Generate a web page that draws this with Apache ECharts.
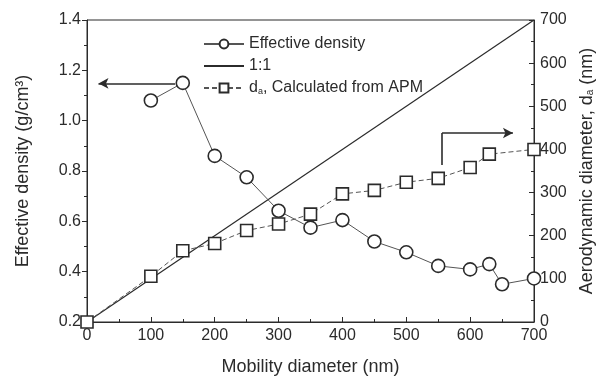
<!DOCTYPE html>
<html>
<head>
<meta charset="utf-8">
<script src="https://cdn.jsdelivr.net/npm/echarts@6/dist/echarts.min.js"></script>
<style>
  html, body { margin: 0; padding: 0; background: #fff; }
  #chart { width: 601px; height: 380px; }
</style>
</head>
<body>
<div id="chart"></div>
<script>
// mobility diameter (nm) for each series
const densityX = [100, 150, 200, 250, 300, 350, 400, 450, 500, 550, 600, 630, 650, 700]
const densityY = [1.08, 1.15, 0.86, 0.775, 0.642, 0.575, 0.605, 0.52, 0.477, 0.423, 0.409, 0.43, 0.35, 0.373]

const daX = [0, 100, 150, 200, 250, 300, 350, 400, 450, 500, 550, 600, 630, 700]
const daY = [0, 106, 165, 182, 212, 227, 250, 297, 305, 324, 333, 358, 389, 400]

const oneToOne = [0, 700]

const ink = '#2b2b2b'
const font = 'Liberation Sans, Arial, sans-serif'

const chart = echarts.init(document.getElementById('chart'))

const option = {
  animation: false,
  backgroundColor: '#fff',
  textStyle: { fontFamily: font, color: ink },
  grid: {
    left: 87,
    right: 67,
    top: 20,
    bottom: 58,
    outerBoundsMode: 'none',
    show: true,
    borderColor: ink,
    borderWidth: 1,
  },
  legend: {
    orient: 'vertical',
    left: 198,
    top: 31,
    itemWidth: 40,
    itemHeight: 11,
    itemGap: 6,
    textStyle: {
      fontFamily: font,
      fontSize: 16,
      color: ink,
      rich: {
        sub: { fontSize: 9, padding: [7, 0, 0, 0], color: ink },
      },
    },
    formatter: (name) => (name === 'da' ? 'd{sub|a}, Calculated from APM' : name),
    data: [
      'Effective density',
      { name: '1:1', itemStyle: { opacity: 0 } },
      'da',
    ],
  },
  xAxis: {
    type: 'value',
    min: 0,
    max: 700,
    interval: 100,
    name: 'Mobility diameter (nm)',
    nameLocation: 'middle',
    nameGap: 36,
    nameTextStyle: { fontSize: 18, color: ink, fontFamily: font },
    axisLine: { lineStyle: { color: ink } },
    axisTick: { inside: true, length: 5, lineStyle: { color: ink } },
    minorTick: { show: true, splitNumber: 2, length: 3, lineStyle: { color: ink } },
    axisLabel: { fontSize: 16, color: ink, margin: 6 },
    splitLine: { show: false },
  },
  yAxis: [
    {
      type: 'value',
      min: 0.2,
      max: 1.4,
      interval: 0.2,
      name: 'Effective density (g/cm³)',
      nameLocation: 'middle',
      nameGap: 55,
      nameTextStyle: { fontSize: 18, color: ink, fontFamily: font },
      axisLine: { show: true, lineStyle: { color: ink } },
      axisTick: { length: 5, lineStyle: { color: ink } },
      minorTick: { show: true, splitNumber: 2, length: 3, lineStyle: { color: ink } },
      axisLabel: { fontSize: 16, color: ink, margin: 6, formatter: (v) => v.toFixed(1) },
      splitLine: { show: false },
    },
    {
      type: 'value',
      position: 'right',
      min: 0,
      max: 700,
      interval: 100,
      name: 'Aerodynamic diameter, d{sub|a} (nm)',
      nameLocation: 'middle',
      nameGap: 42,
      nameTextStyle: {
        fontSize: 18,
        color: ink,
        fontFamily: font,
        rich: { sub: { fontSize: 10, color: ink, padding: [8, 0, 0, 0] } },
      },
      axisLine: { show: true, lineStyle: { color: ink } },
      axisTick: { inside: true, length: 5, lineStyle: { color: ink } },
      minorTick: { show: true, splitNumber: 2, length: 3, lineStyle: { color: ink } },
      axisLabel: { fontSize: 16, color: ink, margin: 6 },
      splitLine: { show: false },
    },
  ],
  series: [
    {
      name: 'Effective density',
      type: 'line',
      yAxisIndex: 0,
      data: densityX.map((x, i) => [x, densityY[i]]),
      symbol: 'circle',
      symbolSize: 13,
      lineStyle: { color: '#555', width: 1 },
      itemStyle: { color: '#fff', borderColor: ink, borderWidth: 1.6 },
      z: 4,
      markLine: {
        silent: true,
        symbol: ['none', 'arrow'],
        symbolSize: [8, 10],
        label: { show: false },
        lineStyle: { color: ink, width: 1.6, type: 'solid' },
        data: [[{ coord: [138, 1.148] }, { coord: [18, 1.148] }]],
      },
    },
    {
      name: '1:1',
      type: 'line',
      yAxisIndex: 1,
      data: oneToOne.map((v) => [v, v]),
      symbol: 'none',
      lineStyle: { color: ink, width: 1.2 },
      itemStyle: { color: ink },
      z: 2,
    },
    {
      name: 'da',
      type: 'line',
      yAxisIndex: 1,
      data: daX.map((x, i) => [x, daY[i]]),
      symbol: 'rect',
      symbolSize: 12,
      lineStyle: { color: '#555', width: 1, type: [5, 3] },
      itemStyle: { color: '#fff', borderColor: ink, borderWidth: 1.6 },
      z: 3,
      markLine: {
        silent: true,
        label: { show: false },
        lineStyle: { color: ink, width: 1.6, type: 'solid' },
        data: [
          [{ coord: [556, 364], symbol: 'none' }, { coord: [556, 438], symbol: 'none' }],
          [{ coord: [556, 438], symbol: 'none' }, { coord: [667, 438], symbol: 'arrow', symbolSize: [8, 10] }],
        ],
      },
    },
  ],
}

chart.setOption(option)
</script>
</body>
</html>
